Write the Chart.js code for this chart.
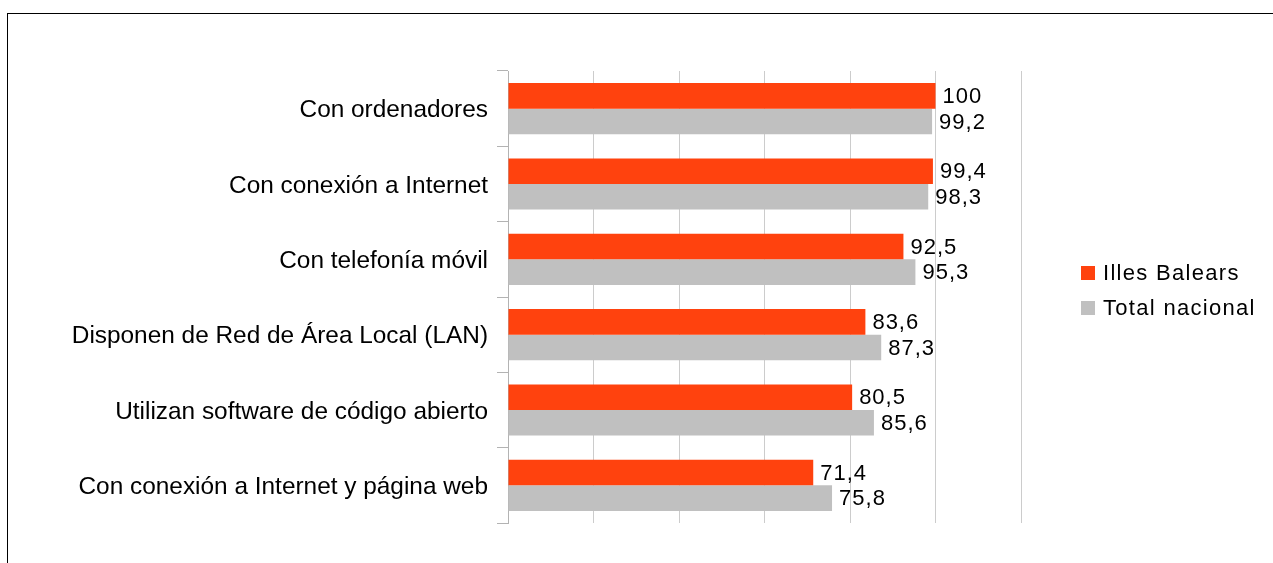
<!DOCTYPE html>
<html>
<head>
<meta charset="utf-8">
<script src="https://cdn.jsdelivr.net/npm/chart.js@4/dist/chart.umd.min.js"></script>
<style>
  html, body { margin: 0; padding: 0; background: #fff; }
  #wrap { position: relative; width: 1273px; height: 563px; overflow: hidden; }
  #frame { position: absolute; left: 7px; top: 13px; width: 1300px; height: 600px; border: 1px solid #000; box-sizing: border-box; }
  canvas { position: absolute; left: 0; top: 0; }
</style>
</head>
<body>
<div id="wrap">
  <div id="frame"></div>
  <canvas id="c" width="1273" height="563"></canvas>
</div>
<script>
const categories = [
  "Con ordenadores",
  "Con conexión a Internet",
  "Con telefonía móvil",
  "Disponen de Red de Área Local (LAN)",
  "Utilizan software de código abierto",
  "Con conexión a Internet y página web"
];
const seriesNames = ["Illes Balears", "Total nacional"];
const illesBalears = [100, 99.4, 92.5, 83.6, 80.5, 71.4];
const totalNacional = [99.2, 98.3, 95.3, 87.3, 85.6, 75.8];
const seriesColors = ["#ff420e", "#c0c0c0"];
const xTicks = [0, 20, 40, 60, 80, 100, 120];

const FONT = "'Liberation Sans', Arial, sans-serif";

function fmt(v) {
  return String(v).replace('.', ',');
}

const valueLabels = {
  id: 'valueLabels',
  afterDatasetsDraw(chart) {
    const ctx = chart.ctx;
    ctx.save();
    ctx.font = "22px " + FONT;
    ctx.fillStyle = "#000";
    ctx.textAlign = "left";
    ctx.textBaseline = "middle";
    try { ctx.letterSpacing = "1px"; } catch (e) {}
    chart.data.datasets.forEach((ds, i) => {
      const meta = chart.getDatasetMeta(i);
      meta.data.forEach((el, j) => {
        ctx.fillText(fmt(ds.data[j]), el.x + 7, el.y + 1);
      });
    });
    ctx.restore();
  }
};

const customLegend = {
  id: 'customLegend',
  afterDraw(chart) {
    const ctx = chart.ctx;
    ctx.save();
    ctx.font = "22px " + FONT;
    ctx.textAlign = "left";
    ctx.textBaseline = "middle";
    try { ctx.letterSpacing = "1.3px"; } catch (e) {}
    const x0 = 1081, y0 = 273, gap = 35, box = 14;
    chart.data.datasets.forEach((ds, i) => {
      const cy = y0 + i * gap;
      ctx.fillStyle = ds.backgroundColor;
      ctx.fillRect(x0, cy - box / 2, box, box);
      ctx.fillStyle = "#000";
      ctx.fillText(ds.label, 1103, cy + 1);
    });
    ctx.restore();
  }
};

new Chart(document.getElementById('c'), {
  type: 'bar',
  data: {
    labels: categories,
    datasets: [
      { label: seriesNames[0], data: illesBalears, backgroundColor: seriesColors[0] },
      { label: seriesNames[1], data: totalNacional, backgroundColor: seriesColors[1] }
    ]
  },
  options: {
    indexAxis: 'y',
    responsive: false,
    animation: false,
    devicePixelRatio: 1,
    layout: { padding: { left: 0, right: 252, top: 71, bottom: 40 } },
    datasets: { bar: { categoryPercentage: 0.68, barPercentage: 1.0 } },
    plugins: {
      legend: { display: false },
      tooltip: { enabled: false },
      title: { display: false }
    },
    scales: {
      x: {
        min: xTicks[0],
        max: xTicks[xTicks.length - 1],
        afterBuildTicks(scale) { scale.ticks = xTicks.map(v => ({ value: v })); },
        ticks: { display: false },
        grid: { color: '#cccccc', lineWidth: 1, drawTicks: false },
        border: { display: false },
        afterFit(scale) { scale.height = 0; }
      },
      y: {
        grid: { drawOnChartArea: false, drawTicks: true, tickLength: 11, color: '#b3b3b3', offset: true },
        border: { display: true, color: '#b3b3b3', width: 1 },
        ticks: { color: '#000', font: { family: FONT, size: 24.4 }, padding: 9, labelOffset: 2 },
        afterFit(scale) { scale.width = 508; }
      }
    }
  },
  plugins: [valueLabels, customLegend]
});
</script>
</body>
</html>
